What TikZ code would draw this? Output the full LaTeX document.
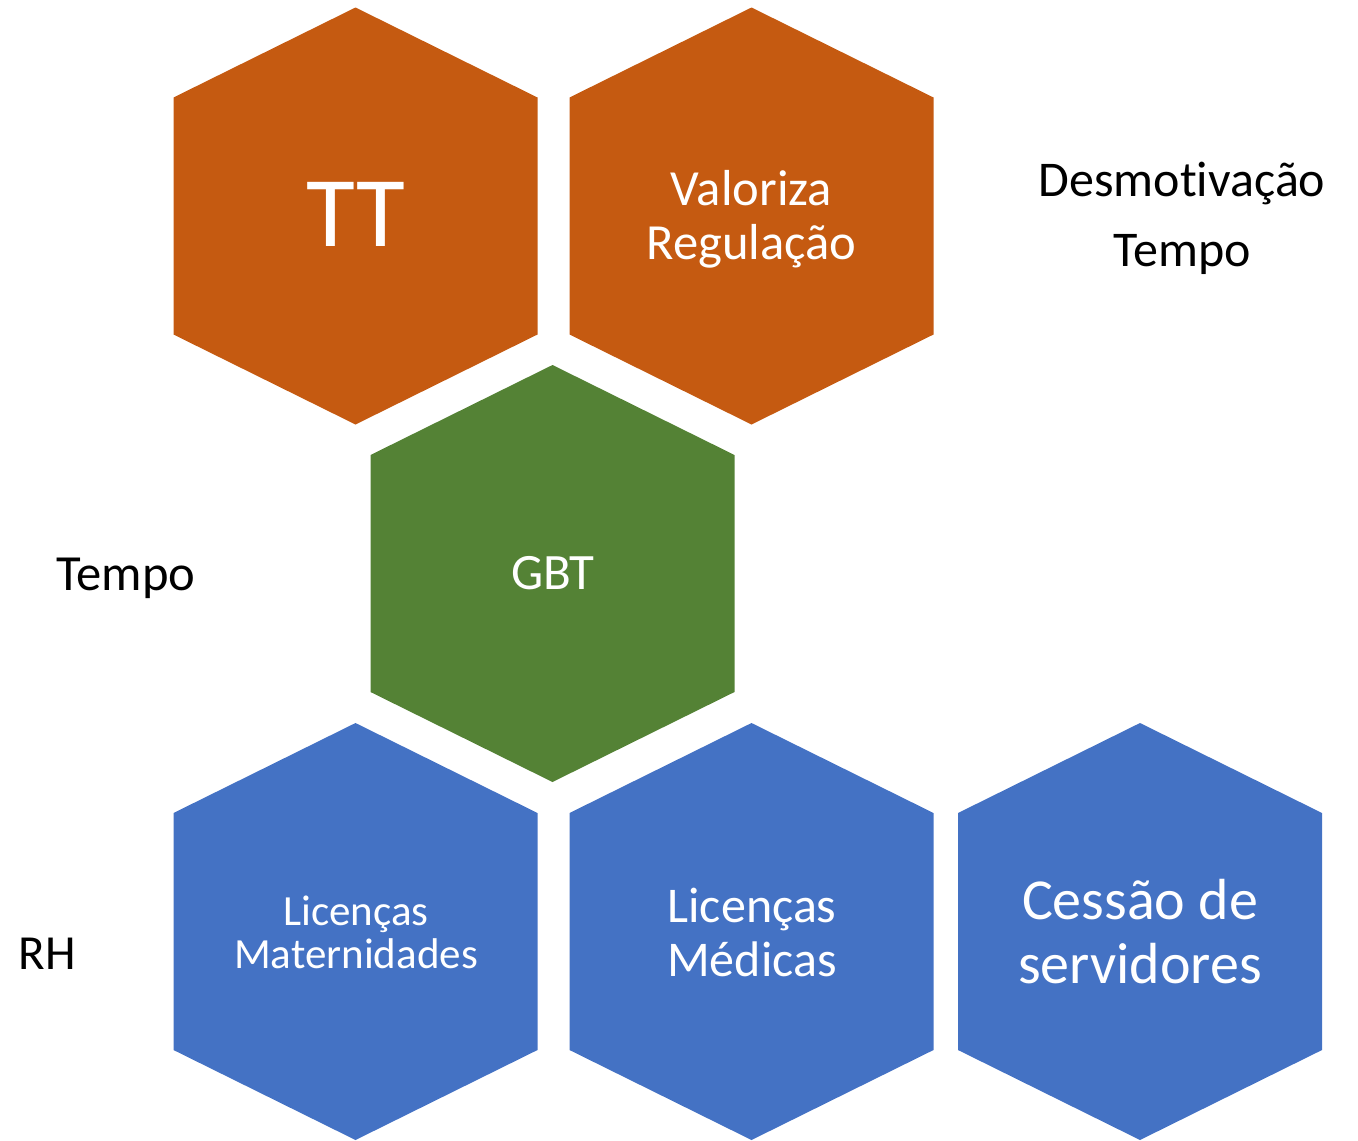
\documentclass[tikz,border=0pt]{standalone}
\usepackage{fontspec}
\setmainfont{Carlito}[Ligatures=NoCommon]
\definecolor{hexorange}{HTML}{C55A11}
\definecolor{hexgreen}{HTML}{548235}
\definecolor{hexblue}{HTML}{4472C4}
% hexagon (pointy top) around a named coordinate
\newcommand{\hexfill}[2]{\fill[#1] (#2) ++(0,-208.5) -- ++(182,90) -- ++(0,237) -- ++(-182,90) -- ++(-182,-90) -- ++(0,-237) -- cycle;}
\begin{document}
\begin{tikzpicture}[x=0.5pt,y=-0.5pt,
    hextext/.style={text=white,align=center,inner sep=0pt},
    sidetext/.style={text=black,align=center,inner sep=0pt}]
  \useasboundingbox (0,0) rectangle (1358,1140);
  \foreach \name/\x/\y/\col in {tt/355.5/216/hexorange, valoriza/751.5/216/hexorange,
      gbt/552.5/573.5/hexgreen, maternidades/355.5/931.5/hexblue,
      medicas/751.5/931.5/hexblue, cessao/1140/931.5/hexblue}{
    \coordinate (\name) at (\x,\y);
    \hexfill{\col}{\name}
  }
  % texts inside the hexagons
  \node[hextext,anchor=base,font=\fontsize{50}{52}\selectfont] (tttext) at (355.5,246.7) {TT};
  \node[hextext,font=\fontsize{25.3}{27}\selectfont] (valtext) at (751.5,219) {Valoriza\\Regulação};
  \node[hextext,anchor=base,font=\fontsize{25.5}{27}\selectfont] (gbttext) at (553,589.3) {GBT};
  \node[hextext,font=\fontsize{21.5}{21.2}\selectfont] (mattext) at (356,932.5) {Licenças\\Maternidades};
  \node[hextext,font=\fontsize{25}{26.7}\selectfont] (medtext) at (752,932.5) {Licenças\\Médicas};
  \node[hextext,font=\fontsize{29}{32}\selectfont] (cestext) at (1140,931.5) {Cessão de\\servidores};
  % side labels
  \node[sidetext,font=\fontsize{25}{35}\selectfont] (desm) at (1182,218.5) {Desmotivação\\Tempo};
  \node[sidetext,anchor=base,font=\fontsize{25.3}{27}\selectfont] (tempo) at (125.7,590) {Tempo};
  \node[sidetext,anchor=base,font=\fontsize{24.5}{26}\selectfont] (rh) at (47.5,969.3) {RH};
\end{tikzpicture}
\end{document}
